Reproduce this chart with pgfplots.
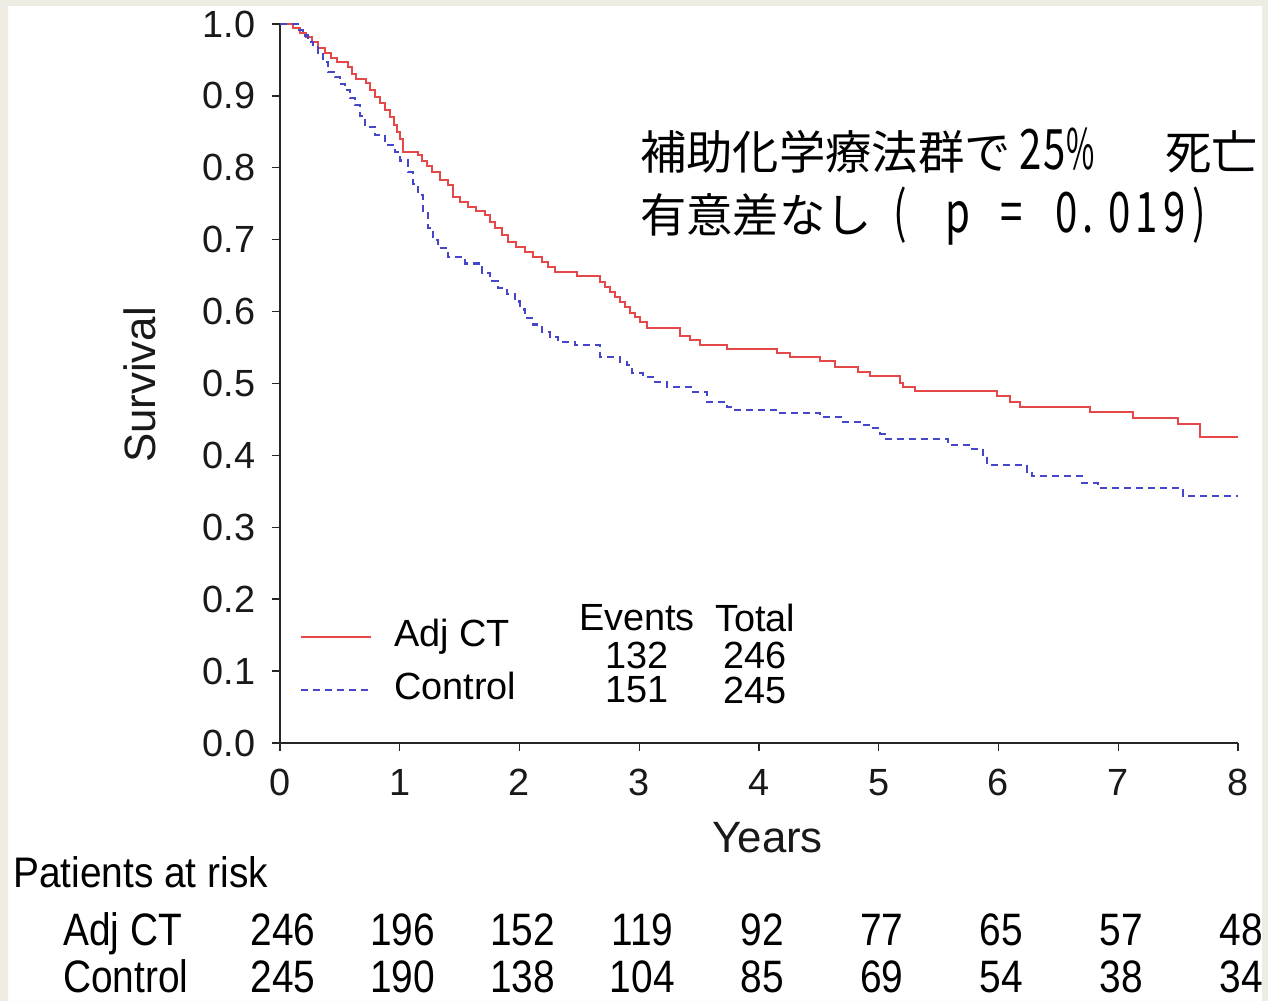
\documentclass[border=0pt]{standalone}
\usepackage{fontspec}
\setmainfont{Liberation Sans}
\newfontfamily\jpfont{Noto Sans CJK JP}
\usepackage{pgfplots}
\usepackage{pgfplotstable}
\pgfplotsset{compat=1.18}

\definecolor{adjred}{RGB}{228,72,72}
\definecolor{ctrlblue}{RGB}{70,70,200}
\definecolor{pageframe}{RGB}{238,235,227}

% Kaplan-Meier estimates: time (years), survival
\pgfplotstableread{
t S
0 1.000
0.109 0.994
0.167 0.988
0.217 0.982
0.267 0.975
0.317 0.967
0.376 0.960
0.426 0.953
0.476 0.947
0.568 0.940
0.601 0.930
0.635 0.924
0.718 0.918
0.752 0.908
0.793 0.898
0.835 0.890
0.877 0.880
0.919 0.870
0.952 0.860
0.977 0.850
1.002 0.840
1.027 0.822
1.152 0.818
1.186 0.810
1.228 0.802
1.269 0.794
1.336 0.783
1.403 0.776
1.445 0.760
1.503 0.752
1.570 0.745
1.637 0.740
1.712 0.734
1.754 0.725
1.795 0.716
1.854 0.706
1.904 0.697
1.971 0.690
2.046 0.683
2.113 0.676
2.188 0.669
2.238 0.662
2.296 0.655
2.480 0.649
2.672 0.641
2.714 0.634
2.756 0.627
2.797 0.620
2.839 0.614
2.881 0.607
2.923 0.598
2.965 0.592
3.006 0.586
3.065 0.577
3.340 0.566
3.424 0.560
3.507 0.554
3.733 0.548
4.150 0.542
4.259 0.537
4.509 0.531
4.635 0.523
4.827 0.516
4.927 0.510
5.177 0.500
5.203 0.495
5.303 0.490
5.987 0.483
6.096 0.474
6.180 0.467
6.764 0.460
7.123 0.452
7.499 0.444
7.683 0.426
8.000 0.426
}\adjct

\pgfplotstableread{
t S
0 1.000
0.150 0.992
0.192 0.984
0.234 0.975
0.276 0.968
0.317 0.960
0.359 0.947
0.401 0.933
0.459 0.926
0.501 0.917
0.543 0.908
0.585 0.897
0.626 0.887
0.668 0.872
0.710 0.857
0.793 0.846
0.877 0.832
0.960 0.822
1.002 0.810
1.069 0.794
1.111 0.778
1.152 0.762
1.194 0.740
1.236 0.716
1.278 0.700
1.319 0.688
1.403 0.676
1.545 0.667
1.687 0.654
1.754 0.643
1.820 0.633
1.896 0.624
1.962 0.614
2.004 0.603
2.046 0.591
2.113 0.582
2.188 0.572
2.255 0.565
2.322 0.558
2.463 0.554
2.672 0.537
2.839 0.530
2.898 0.526
2.939 0.515
3.031 0.509
3.115 0.502
3.232 0.495
3.449 0.488
3.566 0.474
3.733 0.467
3.783 0.463
4.150 0.459
4.509 0.453
4.701 0.446
4.843 0.442
4.952 0.438
5.010 0.430
5.052 0.423
5.578 0.414
5.779 0.409
5.871 0.396
5.904 0.387
6.238 0.377
6.280 0.371
6.697 0.362
6.831 0.355
7.541 0.344
8.000 0.344
}\control

% Patients at risk; ya/yc are the row baselines below the axis
\pgfplotstableread{
t adj ctl ya yc
0 246 245 -0.2823 -0.3477
1 196 190 -0.2823 -0.3477
2 152 138 -0.2823 -0.3477
3 119 104 -0.2823 -0.3477
4 92 85 -0.2823 -0.3477
5 77 69 -0.2823 -0.3477
6 65 54 -0.2823 -0.3477
7 57 38 -0.2823 -0.3477
8 48 34 -0.2823 -0.3477
}\atrisk

\newcommand\tall[1]{\scalebox{1}[1.17]{#1}}
% narrow, tall Latin glyphs for the annotation
\newcommand\jpnarrow[2][0.72]{{\jpfont\fontsize{56}{56}\selectfont\scalebox{#1}[1]{#2}}}

\begin{document}
\begin{tikzpicture}[x=1bp,y=1bp]
\useasboundingbox (0,0) rectangle (1268,1001);
\fill[white] (0,0) rectangle (1268,1001);
\begin{axis}[
  at={(280bp,258bp)}, anchor=south west,
  scale only axis, width=958bp, height=719bp,
  xmin=0, xmax=8, ymin=0, ymax=1,
  clip=false,
  axis lines=left,
  axis line style={-, line width=1.6bp, black!85},
  every tick/.style={line width=1.4bp, black!85},
  major tick length=8bp, tick align=outside,
  xtick={0,1,2,3,4,5,6,7,8},
  ytick={0,0.1,0.2,0.3,0.4,0.5,0.6,0.7,0.8,0.9,1.0},
  /pgf/number format/assume math mode=true,
  tick label style={font=\fontsize{38}{38}\selectfont, text=black!90},
  yticklabel style={xshift=-13bp, /pgf/number format/.cd, fixed, fixed zerofill, precision=1},
  xticklabel style={yshift=-15bp},
  xlabel={Years}, ylabel={Survival},
  every axis x label/.style={at={(axis description cs:0.509,-0.132)}, anchor=center,
    font=\fontsize{44}{44}\selectfont, text=black!90},
  every axis y label/.style={at={(axis description cs:-0.146,0.498)}, rotate=90, anchor=center,
    font=\fontsize{44}{44}\selectfont, text=black!90},
  legend style={draw=none, fill=none, at={(axis cs:0.167,0.1106)}, anchor=west,
    inner sep=0pt, outer sep=0pt, row sep=17bp, column sep=22bp,
    font=\fontsize{38}{38}\selectfont,
    nodes={inner sep=0pt, text height=28bp, text depth=8bp}},
  legend cell align=left,
  legend image code/.code={\draw[#1] (0bp,0bp) -- (70bp,0bp);},
]
\addplot[const plot, adjred, line width=2bp] table[x=t, y=S] {\adjct};
\addlegendentry{Adj CT}
\addplot[const plot, ctrlblue, line width=2.2bp, dash pattern=on 7bp off 5bp] table[x=t, y=S] {\control};
\addlegendentry{Control}

% events / totals beside the legend
\node[font=\fontsize{38}{38}\selectfont] at (axis cs:2.981,0.1739) {Events};
\node[font=\fontsize{38}{38}\selectfont] at (axis cs:3.967,0.1739) {Total};
\node[font=\fontsize{38}{38}\selectfont] at (axis cs:2.981,0.1224) {132};
\node[font=\fontsize{38}{38}\selectfont] at (axis cs:3.967,0.1224) {246};
\node[font=\fontsize{38}{38}\selectfont] at (axis cs:2.981,0.0737) {151};
\node[font=\fontsize{38}{38}\selectfont] at (axis cs:3.967,0.0737) {245};

% patients at risk table
\node[font=\fontsize{39}{39}\selectfont, anchor=base west, inner sep=0pt] at (axis cs:-2.23,-0.2003) {\scalebox{1}[1.1]{Patients at risk}};
\node[font=\fontsize{39}{39}\selectfont, anchor=base west, inner sep=0pt] at (axis cs:-1.812,-0.2823) {\tall{Adj CT}};
\node[font=\fontsize{39}{39}\selectfont, anchor=base west, inner sep=0pt] at (axis cs:-1.812,-0.3477) {\tall{Control}};
\addplot[draw=none, forget plot, point meta=explicit symbolic,
  nodes near coords={\tall{\pgfplotspointmeta}},
  every node near coord/.append style={font=\fontsize{39}{39}\selectfont, anchor=base, inner sep=0pt, xshift=3bp}]
  table[x=t, y=ya, meta=adj] {\atrisk};
\addplot[draw=none, forget plot, point meta=explicit symbolic,
  nodes near coords={\tall{\pgfplotspointmeta}},
  every node near coord/.append style={font=\fontsize{39}{39}\selectfont, anchor=base, inner sep=0pt, xshift=3bp}]
  table[x=t, y=yc, meta=ctl] {\atrisk};
\end{axis}

% annotation, line 1
\begin{scope}[every node/.style={anchor=base west, inner sep=0pt}]
\node[font=\jpfont\fontsize{46.5}{46.5}\selectfont] at (640,831) {補助化学療法群で};
\node at (1019,831) {\jpnarrow{2}};
\node at (1043,831) {\jpnarrow{5}};
\node at (1066,831) {\jpnarrow[0.55]{\%}};
\node[font=\jpfont\fontsize{46.5}{46.5}\selectfont] at (1165,831) {死亡};
% annotation, line 2
\node[font=\jpfont\fontsize{46.5}{46.5}\selectfont] at (640,768) {有意差なし};
\node at (893,768) {\jpnarrow{(}};
\node at (945,768) {\jpnarrow{p}};
\node at (1000,768) {\jpnarrow{=}};
\node at (1055,768) {\jpnarrow{0}};
\node at (1082,768) {\jpnarrow{.}};
\node at (1108,768) {\jpnarrow{0}};
\node at (1135,768) {\jpnarrow{1}};
\node at (1163,768) {\jpnarrow{9}};
\node at (1192,768) {\jpnarrow{)}};
\end{scope}

% page frame
\fill[pageframe, even odd rule] (0,0) rectangle (1268,1001) (8,0) rectangle (1262,995);
\end{tikzpicture}
\end{document}
